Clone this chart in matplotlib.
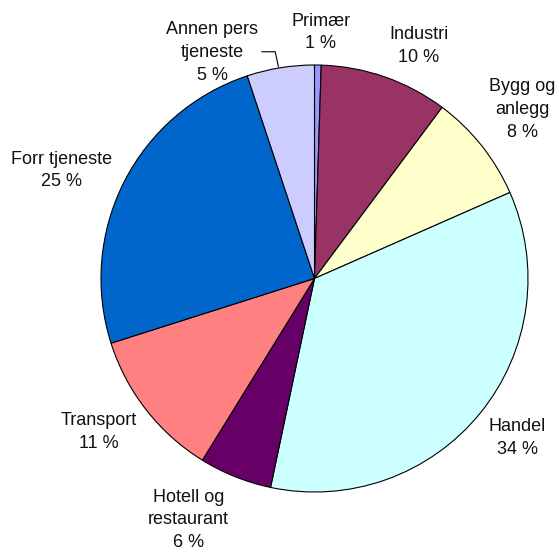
import matplotlib
matplotlib.use('Agg')
import matplotlib.pyplot as plt

plt.rcParams['font.family'] = ['Liberation Sans', 'DejaVu Sans']

sectors = ['Primær', 'Industri', 'Bygg og\nanlegg', 'Handel', 'Hotell og\nrestaurant',
           'Transport', 'Forr tjeneste', 'Annen pers\ntjeneste']
shares = [0.5, 9.7, 8.2, 34.9, 5.5, 11.3, 24.8, 5.1]
pct_labels = ['1 %', '10 %', '8 %', '34 %', '6 %', '11 %', '25 %', '5 %']
colors = ['#9999FF', '#993366', '#FFFFCC', '#CCFFFF', '#660066',
          '#FF8080', '#0066CC', '#CCCCFF']

# label centres in pie units (radius = 1)
label_pos = [(0.030, 1.152), (0.488, 1.089), (0.974, 0.791), (0.951, -0.747),
             (-0.589, -1.131), (-1.009, -0.719), (-1.184, 0.506), (-0.478, 1.059)]

W, H = 558, 552
fig = plt.figure(figsize=(W / 100, H / 100), dpi=100)
cx, cy, R = 314.5, 278.5, 213.5
ax = fig.add_axes([(cx - R) / W, (H - cy - R) / H, 2 * R / W, 2 * R / H])

ax.pie(shares, colors=colors, startangle=90, counterclock=False,
       wedgeprops=dict(edgecolor='black', linewidth=0.8))
ax.set_xlim(-1, 1)
ax.set_ylim(-1, 1)
ax.axis('off')

for name, pct, (x, y) in zip(sectors, pct_labels, label_pos):
    ax.text(x, y, name + '\n' + pct, ha='center', va='center', fontsize=13,
            linespacing=1.45, clip_on=False, color='#111111')

# leader line for "Annen pers tjeneste"
ax.plot([-0.246, -0.184, -0.169], [1.062, 1.062, 0.992], color='black',
        linewidth=0.8, clip_on=False)

fig.savefig('out.png', dpi=100)
